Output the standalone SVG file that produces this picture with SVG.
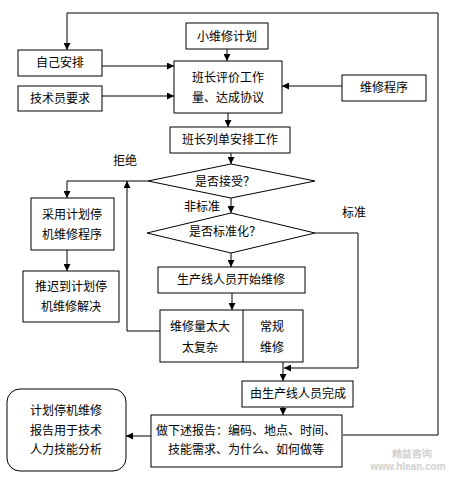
<svg xmlns="http://www.w3.org/2000/svg" width="449" height="478" viewBox="0 0 449 478">
<style>
.b{fill:#fff;stroke:#000;stroke-width:1}
.t{font-family:"Noto Sans CJK SC","Liberation Sans",sans-serif;font-size:12px;fill:#000;text-anchor:middle}
.c{fill:none;stroke:#000;stroke-width:1}
.w{font-family:"Liberation Sans",sans-serif;font-weight:bold;fill:#d0d0d0;text-anchor:middle}
</style>
<defs>
<marker id="a" viewBox="0 0 10 10" refX="10" refY="5" markerWidth="7" markerHeight="7" markerUnits="userSpaceOnUse" orient="auto">
<path d="M0,0 L10,5 L0,10 z" fill="#000"/>
</marker>
</defs>
<rect width="449" height="478" fill="#fff"/>
<g id="connectors" class="c" marker-end="url(#a)">
<path d="M343,435 H438 V13 H67 V50"/>
<path d="M102,66 H174"/>
<path d="M102,96 H174"/>
<path d="M227,49 V61"/>
<path d="M342,86 H282"/>
<path d="M228,113 V127"/>
<path d="M231,153 V164"/>
<path d="M148,181 H67 V198"/>
<path d="M67,250 V271"/>
<path d="M160,331 H127 V181"/>
<path d="M231,198 V213"/>
<path d="M315,233 H358 V368 H284"/>
<path d="M231,253 V267"/>
<path d="M232,293 V310"/>
<path d="M283,362 V381"/>
<path d="M283,407 V415"/>
<path d="M151,436 H126"/>
</g>
<g id="n-self"><rect class="b" x="18" y="50" width="84" height="26"/><text class="t" x="60" y="67">自己安排</text></g>
<g id="n-tech"><rect class="b" x="18" y="86" width="84" height="25"/><text class="t" x="60" y="103">技术员要求</text></g>
<g id="n-plan"><rect class="b" x="186" y="23" width="82" height="26"/><text class="t" x="227" y="40.5">小维修计划</text></g>
<g id="n-eval"><rect class="b" x="174" y="61" width="108" height="52"/><text class="t" x="228" y="82">班长评价工作</text><text class="t" x="228" y="102">量、达成协议</text></g>
<g id="n-proc"><rect class="b" x="342" y="75" width="84" height="26"/><text class="t" x="384" y="92">维修程序</text></g>
<g id="n-list"><rect class="b" x="170" y="127" width="120" height="26"/><text class="t" x="230" y="144">班长列单安排工作</text></g>
<g id="n-accept"><polygon class="b" points="148,181 231,164 315,181 231,198"/><text class="t" x="225" y="186">是否接受？</text></g>
<g id="n-std"><polygon class="b" points="147,233 231,213 315,233 231,253"/><text class="t" x="225" y="236">是否标准化？</text></g>
<g id="l-reject"><text class="t" x="125" y="165">拒绝</text></g>
<g id="l-nonstd"><text class="t" x="202" y="211">非标准</text></g>
<g id="l-stdl"><text class="t" x="354" y="217">标准</text></g>
<g id="n-use"><rect class="b" x="31" y="198" width="83" height="52"/><text class="t" x="72" y="219">采用计划停</text><text class="t" x="72" y="239">机维修程序</text></g>
<g id="n-delay"><rect class="b" x="23" y="271" width="96" height="51"/><text class="t" x="71" y="291">推迟到计划停</text><text class="t" x="71" y="311">机维修解决</text></g>
<g id="n-start"><rect class="b" x="158" y="267" width="147" height="26"/><text class="t" x="231" y="284">生产线人员开始维修</text></g>
<g id="n-split"><rect class="b" x="160" y="310" width="143" height="52"/><line class="c" x1="243" y1="310" x2="243" y2="362"/><text class="t" x="200" y="331">维修量太大</text><text class="t" x="200" y="352">太复杂</text><text class="t" x="272" y="331">常规</text><text class="t" x="272" y="352">维修</text></g>
<g id="n-done"><rect class="b" x="242" y="381" width="111" height="26"/><text class="t" x="298" y="398">由生产线人员完成</text></g>
<g id="n-report"><rect class="b" x="151" y="415" width="191" height="52"/><text class="t" x="246" y="435">做下述报告：编码、地点、时间、</text><text class="t" x="246" y="454">技能需求、为什么、如何做等</text></g>
<g id="n-analysis"><rect class="b" x="7" y="389" width="119" height="82" rx="13" ry="13"/><text class="t" x="66" y="415">计划停机维修</text><text class="t" x="66" y="435">报告用于技术</text><text class="t" x="66" y="454">人力技能分析</text></g>
<g id="watermark"><text class="w" x="412" y="457" font-size="10">精益咨询</text><text class="w" x="408" y="470" font-size="10">www.hlean.com</text></g>
</svg>
